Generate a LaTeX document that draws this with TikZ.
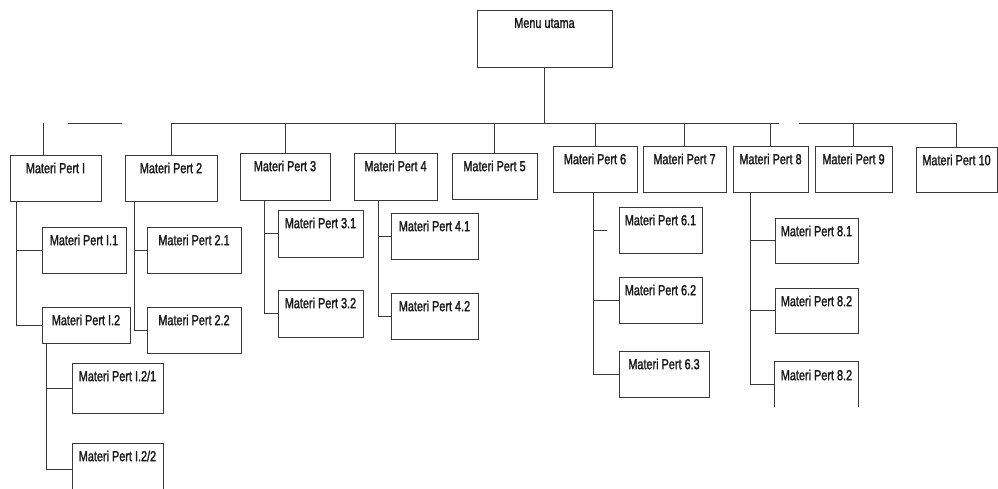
\documentclass[tikz,border=0pt]{standalone}
\usepackage{fontspec}
\setmainfont{Liberation Sans}[FakeStretch=0.75,FakeBold=1.6]
\begin{document}
\begin{tikzpicture}[x=1pt,y=1pt,
  ink/.style={draw=black!78, line width=0.9pt},
  box/.style={ink, fill=white, rectangle, inner sep=0pt},
  openbox/.style={draw=none, rectangle, inner sep=0pt},
  lbl/.style={text=black!90, font=\fontsize{14.5}{16}\selectfont, inner sep=0pt}]
% page
\fill[white] (0,0) rectangle (998,-489);
\useasboundingbox (0,0) rectangle (998,-489);

% box: name, left, top, right, bottom, label
\newcommand{\bx}[6]{%
  \node[box, minimum width={(#4-#2)*1pt}, minimum height={(#5-#3)*1pt}]
    (#1) at ({(#2+#4)/2}, {-(#3+#5)/2}) {};
  \node[lbl] (#1-t) at ({(#2+#4)/2}, {-#3-13}) {#6};}
% box without a bottom edge
\newcommand{\obx}[6]{%
  \node[openbox, minimum width={(#4-#2)*1pt}, minimum height={(#5-#3)*1pt}]
    (#1) at ({(#2+#4)/2}, {-(#3+#5)/2}) {};
  \draw[ink] (#1.south west) -- (#1.north west) -- (#1.north east) -- (#1.south east);
  \node[lbl] (#1-t) at ({(#2+#4)/2}, {-#3-13}) {#6};}

% root
\bx{menu}{477}{10}{612}{67}{Menu utama}

% first level
\bx{p1}{10}{155}{101}{201}{Materi Pert I}
\bx{p2}{125}{155}{217}{201}{Materi Pert 2}
\bx{p3}{240}{153}{330}{200}{Materi Pert 3}
\bx{p4}{354}{153}{437}{200}{Materi Pert 4}
\bx{p5}{452}{153}{537}{199}{Materi Pert 5}
\bx{p6}{553}{146}{637}{192}{Materi Pert 6}
\bx{p7}{643}{146}{726}{192}{Materi Pert 7}
\bx{p8}{733}{146}{808}{192}{Materi Pert 8}
\bx{p9}{815}{146}{892}{192}{Materi Pert 9}
\bx{p10}{916}{147}{997}{192}{Materi Pert 10}

% second level
\bx{c11}{42}{227}{126}{273}{Materi Pert I.1}
\bx{c12}{42}{307}{130}{343}{Materi Pert I.2}
\bx{c121}{72}{363}{163}{413}{Materi Pert I.2/1}
\bx{c122}{72}{443}{163}{495}{Materi Pert I.2/2}
\bx{c21}{147}{227}{241}{273}{Materi Pert 2.1}
\bx{c22}{147}{307}{241}{353}{Materi Pert 2.2}
\bx{c31}{278}{210}{363}{257}{Materi Pert 3.1}
\bx{c32}{278}{290}{363}{337}{Materi Pert 3.2}
\bx{c41}{391}{213}{478}{259}{Materi Pert 4.1}
\bx{c42}{391}{293}{478}{339}{Materi Pert 4.2}
\bx{c61}{619}{207}{702}{253}{Materi Pert 6.1}
\bx{c62}{619}{277}{702}{323}{Materi Pert 6.2}
\bx{c63}{619}{351}{709}{397}{Materi Pert 6.3}
\bx{c81}{775}{218}{858}{263}{Materi Pert 8.1}
\bx{c82}{775}{288}{858}{333}{Materi Pert 8.2}
\obx{c83}{775}{362}{858}{407}{Materi Pert 8.2}

% top bus
\coordinate (bus) at (0,-123.5);
\coordinate (busA) at (68,-123.5);
\coordinate (busB) at (122,-123.5);
\coordinate (busC) at (779,-123.5);
\coordinate (busD) at (799,-123.5);
\draw[ink] (menu.south) -- (menu.south |- bus);
\draw[ink] (busA) -- (busB);
\draw[ink] (p2.north |- bus) -- (busC);
\draw[ink] (busD) -- (p10.north |- bus);
\draw[ink] ([xshift=-12.5pt]p1.north) -- ([xshift=-12.5pt]p1.north |- bus);
\foreach \p in {p2,p3,p4,p5,p6,p7,p8,p9,p10}
  \draw[ink] (\p.north) -- (\p.north |- bus);

% branches below the first level
\draw[ink] ([xshift=7pt]p1.south west) |- (c11.west);
\draw[ink] ([xshift=7pt]p1.south west) |- (c12.west);
\draw[ink] ([xshift=5pt]c12.south west) |- (c121.west);
\draw[ink] ([xshift=5pt]c12.south west) |- (c122.west);
\draw[ink] ([xshift=10pt]p2.south west) |- (c21.west);
\draw[ink] ([xshift=10pt]p2.south west) |- (c22.west);
\draw[ink] ([xshift=25pt]p3.south west) |- (c31.west);
\draw[ink] ([xshift=25pt]p3.south west) |- (c32.west);
\draw[ink] ([xshift=25pt]p4.south west) |- (c41.west);
\draw[ink] ([xshift=25pt]p4.south west) |- (c42.west);
\coordinate (g61) at ([xshift=-12pt]c61.west);
\draw[ink] ([xshift=41pt]p6.south west) |- (c63.west);
\draw[ink] ([xshift=41pt]p6.south west |- g61) -- (g61);
\draw[ink] ([xshift=41pt]p6.south west |- c62.west) -- (c62.west);
\draw[ink] ([xshift=18pt]p8.south west) |- (c83.west);
\draw[ink] ([xshift=18pt]p8.south west |- c81.west) -- (c81.west);
\draw[ink] ([xshift=18pt]p8.south west |- c82.west) -- (c82.west);
\end{tikzpicture}
\end{document}
